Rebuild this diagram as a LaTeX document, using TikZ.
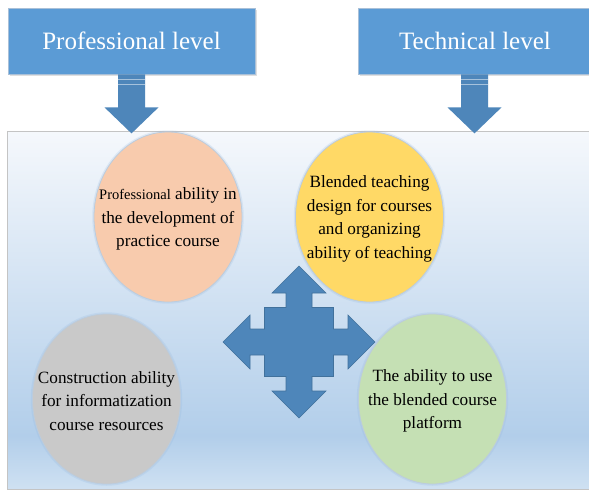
\documentclass[tikz,border=0pt]{standalone}
\usepackage{fontspec}
\setmainfont{Liberation Serif}
\usetikzlibrary{shapes.geometric,shadows}
\definecolor{topblue}{HTML}{5B9BD5}
\definecolor{topedge}{HTML}{A9C0D8}
\definecolor{arrowblue}{HTML}{4E86BA}
\definecolor{arrowedge}{HTML}{41719C}
\definecolor{bgtop}{HTML}{F5F8FC}
\definecolor{bgmid}{HTML}{B2CEEA}
\definecolor{bgbot}{HTML}{CFE1F2}
\definecolor{paneledge}{HTML}{C4C4C4}
\definecolor{pinkfill}{HTML}{F8CBAD}
\definecolor{yellowfill}{HTML}{FFD966}
\definecolor{grayfill}{HTML}{C9C9C9}
\definecolor{greenfill}{HTML}{C5E0B4}
\definecolor{bubbleedge}{HTML}{BCCCDD}
\definecolor{glowblue}{HTML}{8DB4DE}
\pgfdeclareverticalshading{boxshade}{100bp}{color(0bp)=(bgbot); color(25bp)=(bgbot); color(32.5bp)=(bgmid); color(75bp)=(bgtop); color(100bp)=(bgtop)}
\begin{document}
\begin{tikzpicture}[x=1pt,y=-1pt,
  levelbox/.style={rectangle, fill=topblue, draw=topedge, line width=0.8pt,
    text=white, font=\fontsize{25}{30}\selectfont, inner sep=0pt,
    drop shadow={opacity=0.25, shadow xshift=1.5pt, shadow yshift=-2pt}},
  panelbox/.style={rectangle, shading=boxshade, draw=paneledge, line width=1.2pt, inner sep=0pt},
  bubble/.style={ellipse, draw=bubbleedge, line width=0.8pt, inner sep=0pt,
    minimum width=148pt, minimum height=170pt,
    preaction={draw=glowblue, line width=3.5pt, draw opacity=0.2}},
  bubbletext/.style={align=center, text=black, font=\fontsize{17.2}{23.5}\selectfont, inner sep=0pt, yshift=-2pt},
  hubarrow/.style={fill=arrowblue, draw=arrowedge, line width=0.6pt, line join=miter},
  levelarrow/.pic={
    \fill[arrowblue] (-13.5,0) -- (13.5,0) -- (13.5,33) -- (27,33) -- (0,59) -- (-27,33) -- (-13.5,33) -- cycle;
    \fill[white,opacity=0.5] (-13.5,4.3) rectangle (13.5,5.3);
    \fill[white,opacity=0.5] (-13.5,9.3) rectangle (13.5,11);
  }]
\clip (0,0) rectangle (589,490);
\fill[white] (0,0) rectangle (589,490);

\node[panelbox, anchor=north west, minimum width=600pt, minimum height=358pt] (panel) at (7,131) {};

\node[levelbox, minimum width=247pt, minimum height=66pt] (prof) at (131.5,41) {Professional level};
\node[levelbox, minimum width=246pt, minimum height=66pt] (tech) at (481,41) {\hspace*{-12pt}Technical level};

\pic at (prof.south) {levelarrow};
\pic at ([xshift=-6.5pt]tech.south) {levelarrow};

\node[bubble, fill=pinkfill] (e1) at (168,217) {};
\node[bubble, fill=yellowfill] (e2) at (369.5,217) {};
\node[bubble, fill=grayfill] (e3) at (106.5,399) {};
\node[bubble, fill=greenfill] (e4) at (432.5,399) {};

\node[bubbletext] (t1) at (e1.center) {{\fontsize{14.5}{23.5}\selectfont Professional} ability in\\the development of\\practice course};
\node[bubbletext] (t2) at (e2.center) {Blended teaching\\design for courses\\and organizing\\ability of teaching};
\node[bubbletext] (t3) at (e3.center) {Construction ability\\for informatization\\course resources};
\node[bubbletext] (t4) at (e4.center) {The ability to use\\the blended course\\platform};

\coordinate (hub) at (299,342);
\draw[hubarrow, shift={(hub)}]
  (0,-76) -- (27,-49) -- (13,-49) -- (13,-34.5) -- (34.5,-34.5) -- (34.5,-13) -- (49,-13) -- (49,-27)
  -- (76,0) -- (49,27) -- (49,13) -- (34.5,13) -- (34.5,34.5) -- (13,34.5) -- (13,49) -- (27,49)
  -- (0,76) -- (-27,49) -- (-13,49) -- (-13,34.5) -- (-34.5,34.5) -- (-34.5,13) -- (-49,13) -- (-49,27)
  -- (-76,0) -- (-49,-27) -- (-49,-13) -- (-34.5,-13) -- (-34.5,-34.5) -- (-13,-34.5) -- (-13,-49) -- (-27,-49)
  -- cycle;
\end{tikzpicture}
\end{document}
